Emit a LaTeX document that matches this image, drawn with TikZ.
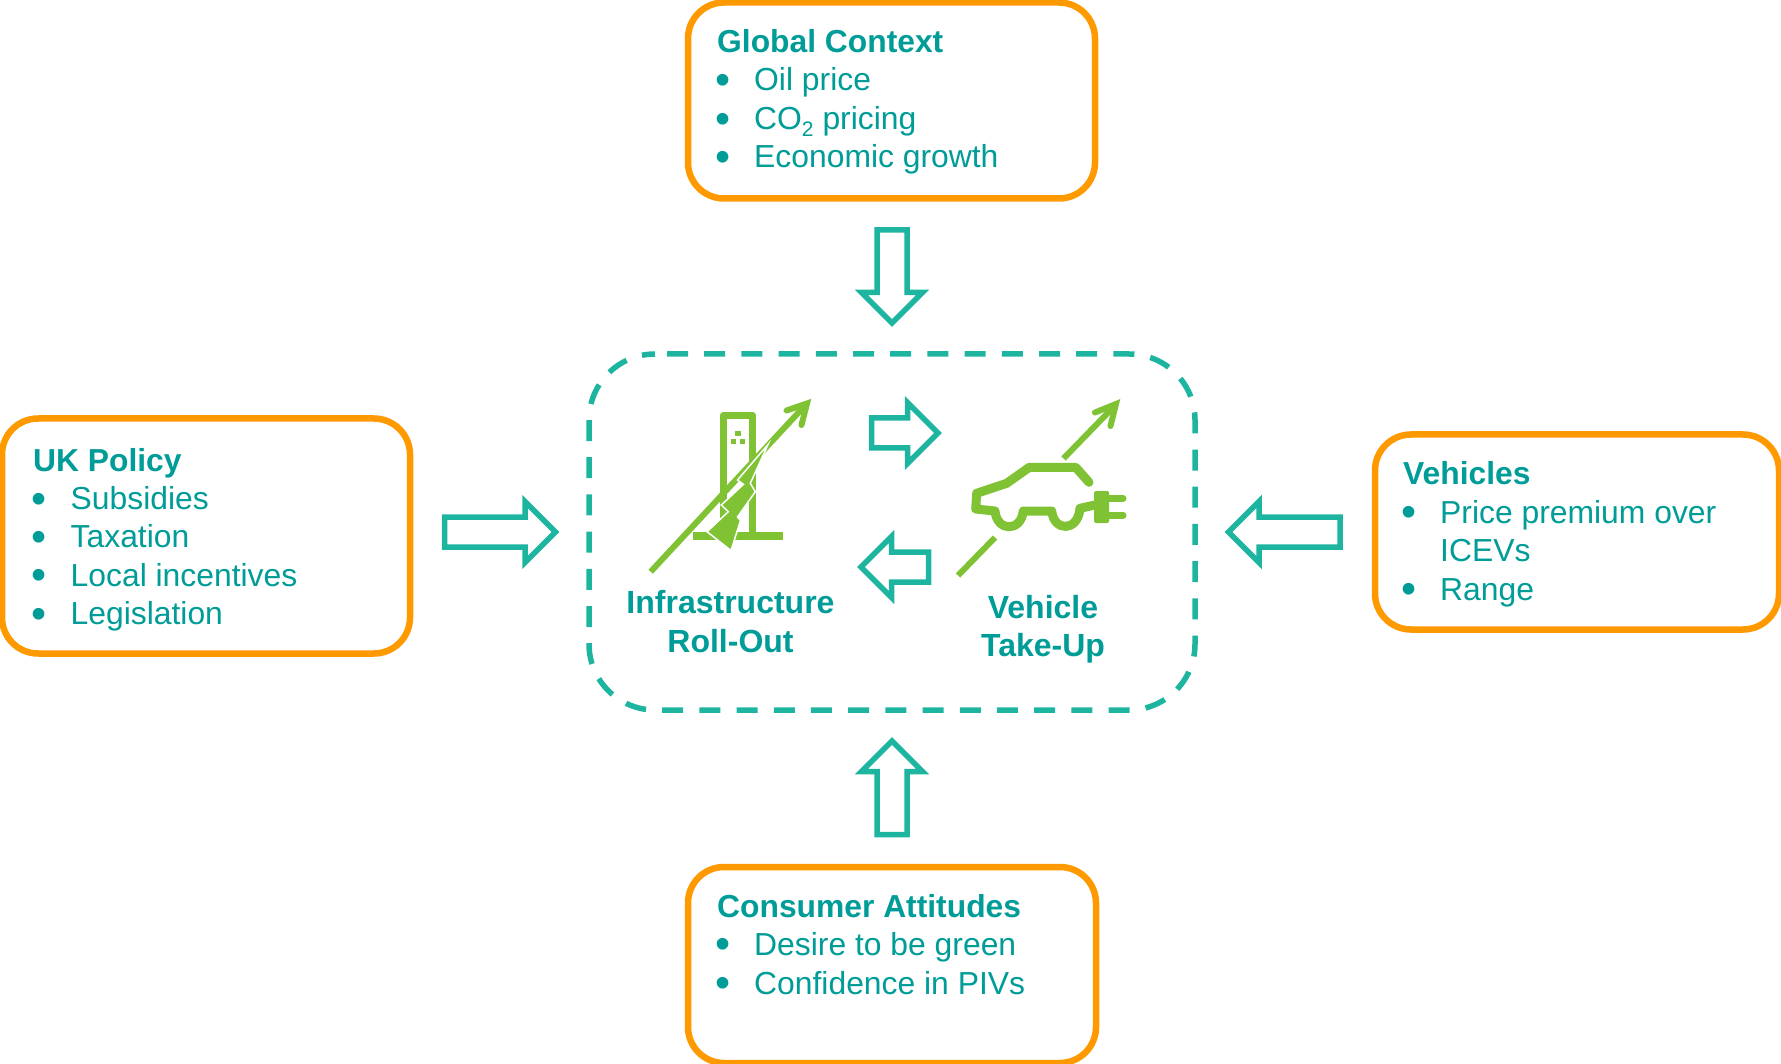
\documentclass[tikz,border=0pt]{standalone}
\usepackage{fontspec}
\setmainfont{Liberation Sans}
\definecolor{txtteal}{HTML}{009C98}
\definecolor{lineteal}{HTML}{1DB59F}
\definecolor{boxorange}{HTML}{FF9900}
\definecolor{icongreen}{HTML}{7FC233}
\newcommand{\bul}{\hspace*{-2pt}\raisebox{-3.8pt}{\scalebox{1.35}{•}}}
\tikzset{
  infobox/.style={draw=boxorange,line width=6.5pt,rounded corners=36pt,fill=white,inner sep=0pt},
  hd/.style={anchor=base west,inner sep=0pt,text=txtteal,font=\fontsize{31.8}{38}\selectfont\bfseries},
  itm/.style={anchor=base west,inner sep=0pt,text=txtteal,font=\fontsize{31.85}{38}\selectfont},
  lbl/.style={anchor=base,inner sep=0pt,text=txtteal,font=\fontsize{32}{38}\selectfont\bfseries},
  blockarrow/.style={draw=lineteal,line width=5.5pt,miter limit=10,fill=white},
  dashbox/.style={draw=lineteal,line width=5.5pt,rounded corners=66pt,dash pattern=on 21pt off 16.2pt,dash phase=25.2pt},
  iconline/.style={draw=icongreen,line width=6pt},
  iconstroke/.style={draw=icongreen,line width=9pt,line join=round,line cap=round},
}
\begin{document}
\begin{tikzpicture}[x=1pt,y=-1pt]
\useasboundingbox (0,0) rectangle (1781,1064);
% boxes
\node[infobox,minimum width=407pt,minimum height=196pt] (global) at (891.5,100.5) {};
\node[infobox,minimum width=408pt,minimum height=235pt] (uk) at (206,536) {};
\node[infobox,minimum width=404pt,minimum height=195pt] (veh) at (1577,532) {};
\node[infobox,minimum width=408pt,minimum height=196pt] (cons) at (892,965) {};
\draw[dashbox] (655,354) -- (1195,354) -- (1195,710) -- (589,710) -- (589,354) -- (655,354);
% Global
\node[hd] (g0) at (717,53) {Global Context};
\node[itm] (g1b) at (717,91) {\bul};
\node[itm] (g1) at (754,91) {Oil price};
\node[itm] (g2b) at (717,130) {\bul};
\node[itm] (g2) at (754,130) {CO\raisebox{-0.2em}{\fontsize{21}{21}\selectfont 2} pricing};
\node[itm] (g3b) at (717,168) {\bul};
\node[itm] (g3) at (754,168) {Economic growth};
% UK
\node[hd] (u0) at (33,471.5) {UK Policy};
\node[itm] (u1b) at (33,509.5) {\bul};
\node[itm] (u1) at (70.5,509.5) {Subsidies};
\node[itm] (u2b) at (33,547.5) {\bul};
\node[itm] (u2) at (70.5,547.5) {Taxation};
\node[itm] (u3b) at (33,586) {\bul};
\node[itm] (u3) at (70.5,586) {Local incentives};
\node[itm] (u4b) at (33,624.5) {\bul};
\node[itm] (u4) at (70.5,624.5) {Legislation};
% Vehicles
\node[hd] (v0) at (1403,484) {Vehicles};
\node[itm] (v1b) at (1403,523) {\bul};
\node[itm] (v1) at (1440,523) {Price premium over};
\node[itm] (v1c) at (1440,561) {ICEVs};
\node[itm] (v2b) at (1403,600) {\bul};
\node[itm] (v2) at (1440,600) {Range};
% Consumer
\node[hd] (c0) at (717,917) {Consumer Attitudes};
\node[itm] (c1b) at (717,955) {\bul};
\node[itm] (c1) at (754,955) {Desire to be green};
\node[itm] (c2b) at (717,994) {\bul};
\node[itm] (c2) at (754,994) {Confidence in PIVs};
% block arrows
\draw[blockarrow] (877,230) -- (907,230) -- (907,292.5) -- (922.5,292.5) -- (892,323) -- (861.5,292.5) -- (877,292.5) -- cycle;
\draw[blockarrow] (877,834.5) -- (907,834.5) -- (907,771.5) -- (922.5,771.5) -- (892,741) -- (861.5,771.5) -- (877,771.5) -- cycle;
\draw[blockarrow] (444.5,517) -- (525,517) -- (525,501.5) -- (555.5,532) -- (525,562.5) -- (525,547) -- (444.5,547) -- cycle;
\draw[blockarrow] (1340,517) -- (1259,517) -- (1259,501.5) -- (1228.5,532) -- (1259,562.5) -- (1259,547) -- (1340,547) -- cycle;
\draw[blockarrow] (871.5,418) -- (907.5,418) -- (907.5,402.5) -- (938,433) -- (907.5,463.5) -- (907.5,448) -- (871.5,448) -- cycle;
\draw[blockarrow] (928.5,552) -- (891.5,552) -- (891.5,536.5) -- (861,567) -- (891.5,597.5) -- (891.5,582) -- (928.5,582) -- cycle;
% charger icon
\draw[iconstroke,line width=7.5pt,line cap=butt,line join=round] (723.5,522) -- (723.5,415.5) -- (752.5,415.5) -- (752.5,535);
\fill[icongreen] (692.5,531.5) rectangle (783,539.5);
\fill[icongreen] (735,430.7) rectangle (740.7,436);
\fill[icongreen] (730.7,439.3) rectangle (735.7,444.3);
\fill[icongreen] (740,439.3) rectangle (745,444.3);
\draw[iconline] (650.7,571.7) -- (806,404.5);
\draw[iconline,line cap=round,line join=miter] (786.5,410.5) -- (807,403.5) -- (801.5,425);
\draw[draw=white,line width=1.5pt,fill=icongreen,line join=miter]
  (768,444.5) -- (737.5,480) -- (743.5,484.3) -- (721.3,505) -- (728.3,511.7) -- (707,531.7) -- (731,550.5) -- (740.5,520.5) -- (737.5,517) -- (755.3,491.7) -- (750.3,483.3) -- cycle;
% car icon
\draw[iconline] (1063.5,458.5) -- (1115,405.5);
\draw[iconline,line cap=round,line join=miter] (1095,412.5) -- (1116,404) -- (1110.5,426);
\draw[iconline] (958,575.5) -- (995,537.5);
\draw[iconstroke] (1089,482.3) -- (1075.7,467.3) -- (1029.3,467.3) -- (1006.7,483.3) -- (976.7,493.3) -- (975.7,509) -- (995,511)
  .. controls (997,532) and (1021,532) .. (1023.3,511) -- (1051.7,511)
  .. controls (1054,532) and (1078,532) .. (1080,508.3) -- (1095,505);
\fill[icongreen,rounded corners=1.5pt] (1094,491) rectangle (1109,523);
\draw[iconline,line width=7pt,line cap=round] (1108,498.3) -- (1123,498.3);
\draw[iconline,line width=7pt,line cap=round] (1108,515) -- (1123,515);
% centre labels
\node[lbl] (infra1) at (730.5,613) {Infrastructure};
\node[lbl] (infra2) at (730.5,652) {Roll-Out};
\node[lbl] (take1) at (1043,618) {Vehicle};
\node[lbl] (take2) at (1043,656) {Take-Up};
\end{tikzpicture}
\end{document}
